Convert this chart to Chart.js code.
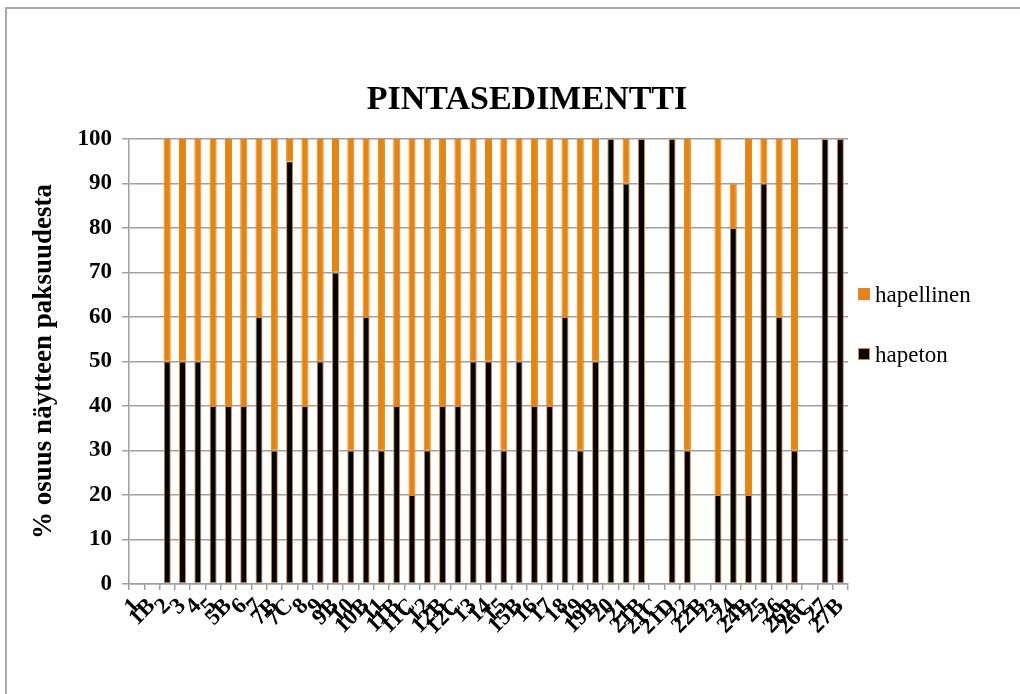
<!DOCTYPE html>
<html>
<head>
<meta charset="utf-8">
<script src="https://cdn.jsdelivr.net/npm/chart.js@4/dist/chart.umd.min.js"></script>
<style>
  html, body { margin: 0; padding: 0; background: #ffffff; overflow: hidden; }
  #wrap { position: relative; width: 1020px; height: 694px; }
  #frame { position: absolute; left: 5px; top: 7px; width: 1100px; height: 800px; border: 2px solid #a9a9a9; box-sizing: border-box; }
  #c { position: absolute; left: 0; top: 0; }
</style>
</head>
<body>
<div id="wrap">
  <div id="frame"></div>
  <canvas id="c" width="1020" height="694"></canvas>
</div>
<script>
// Sample sites
const categories = ['1','1B','2','3','4','5','5B','6','7','7B','7C','8','9','9B','10','10B','11','11B','11C','12','12B','12C','13','14','15','15B','16','17','18','19','19B','20','21','21B','21C','21D','22','22B','23','24','24B','25','26','26B','26C','27','27B'];

// Share of sample thickness, anoxic part (%)
const hapeton = [null,null,50,50,50,40,40,40,60,30,95,40,50,70,30,60,30,40,20,30,40,40,50,50,30,50,40,40,60,30,50,100,90,100,null,100,30,null,20,80,20,90,60,30,null,100,100];

// Share of sample thickness, oxic part (%)
const hapellinen = [null,null,50,50,50,60,60,60,40,70,5,60,50,30,70,40,70,60,80,70,60,60,50,50,70,50,60,60,40,70,50,0,10,0,null,0,70,null,80,10,80,10,40,70,null,0,0];

const yTicks = [0,10,20,30,40,50,60,70,80,90,100];

const chartTitle = 'PINTASEDIMENTTI';
const yTitle = '% osuus näytteen paksuudesta';

const ORANGE = '#E8830E';
const BLACK = '#050505';
const EDGE = '#D58A3E';
const GRID = '#a0a0a0';
const SERIF = '"Liberation Serif", "DejaVu Serif", serif';

// Title and legend painted on the canvas
const decorations = {
  id: 'decorations',
  afterDraw(chart) {
    const ctx = chart.ctx;
    ctx.save();
    ctx.fillStyle = '#000';
    ctx.font = 'bold 34px ' + SERIF;
    ctx.textAlign = 'center';
    ctx.textBaseline = 'alphabetic';
    ctx.fillText(chartTitle, 527, 109);

    // legend, top entry is the upper stack segment
    const items = chart.data.datasets.slice().reverse();
    const x = 858, ys = [288, 348];
    ctx.font = '23px ' + SERIF;
    ctx.textAlign = 'left';
    items.forEach((ds, i) => {
      const y = ys[i];
      ctx.fillStyle = ds.backgroundColor;
      ctx.fillRect(x, y, 12, 12);
      ctx.strokeStyle = EDGE;
      ctx.lineWidth = 1;
      ctx.strokeRect(x + 0.5, y + 0.5, 11, 11);
      ctx.fillStyle = '#000';
      ctx.fillText(ds.label, x + 17, y + 14);
    });
    ctx.restore();
  }
};

new Chart(document.getElementById('c'), {
  type: 'bar',
  data: {
    labels: categories,
    datasets: [
      {
        label: 'hapeton',
        data: hapeton,
        backgroundColor: BLACK,
        borderColor: EDGE,
        borderWidth: 1,
        borderSkipped: false,
        categoryPercentage: 1,
        barPercentage: 0.46
      },
      {
        label: 'hapellinen',
        data: hapellinen,
        backgroundColor: ORANGE,
        borderColor: ORANGE,
        borderWidth: 1,
        borderSkipped: false,
        categoryPercentage: 1,
        barPercentage: 0.46
      }
    ]
  },
  options: {
    responsive: false,
    animation: false,
    layout: { padding: { left: 0, top: 139, right: 172, bottom: 0 } },
    plugins: {
      legend: { display: false },
      title: { display: false },
      tooltip: { enabled: false }
    },
    scales: {
      x: {
        stacked: true,
        afterFit(scale) { scale.height = 110; },
        grid: {
          display: true,
          drawOnChartArea: false,
          drawTicks: true,
          tickLength: 6,
          color: GRID,
          lineWidth: 1.5
        },
        border: { display: true, color: GRID, width: 1.5 },
        ticks: {
          autoSkip: false,
          minRotation: 45,
          maxRotation: 45,
          padding: 3,
          color: '#000',
          font: { family: SERIF, size: 23, weight: 'bold' }
        }
      },
      y: {
        stacked: true,
        min: 0,
        max: 100,
        afterFit(scale) { scale.width = 129; },
        afterBuildTicks(scale) { scale.ticks = yTicks.map(v => ({ value: v })); },
        grid: {
          color: GRID,
          lineWidth: 1.5,
          drawTicks: true,
          tickLength: 7
        },
        border: { display: true, color: GRID, width: 1.5 },
        ticks: {
          padding: 10,
          color: '#000',
          font: { family: SERIF, size: 23, weight: 'bold' }
        },
        title: {
          display: true,
          text: yTitle,
          color: '#000',
          padding: { top: 28, bottom: 0 },
          font: { family: SERIF, size: 27, weight: 'bold' }
        }
      }
    }
  },
  plugins: [decorations]
});
</script>
</body>
</html>
